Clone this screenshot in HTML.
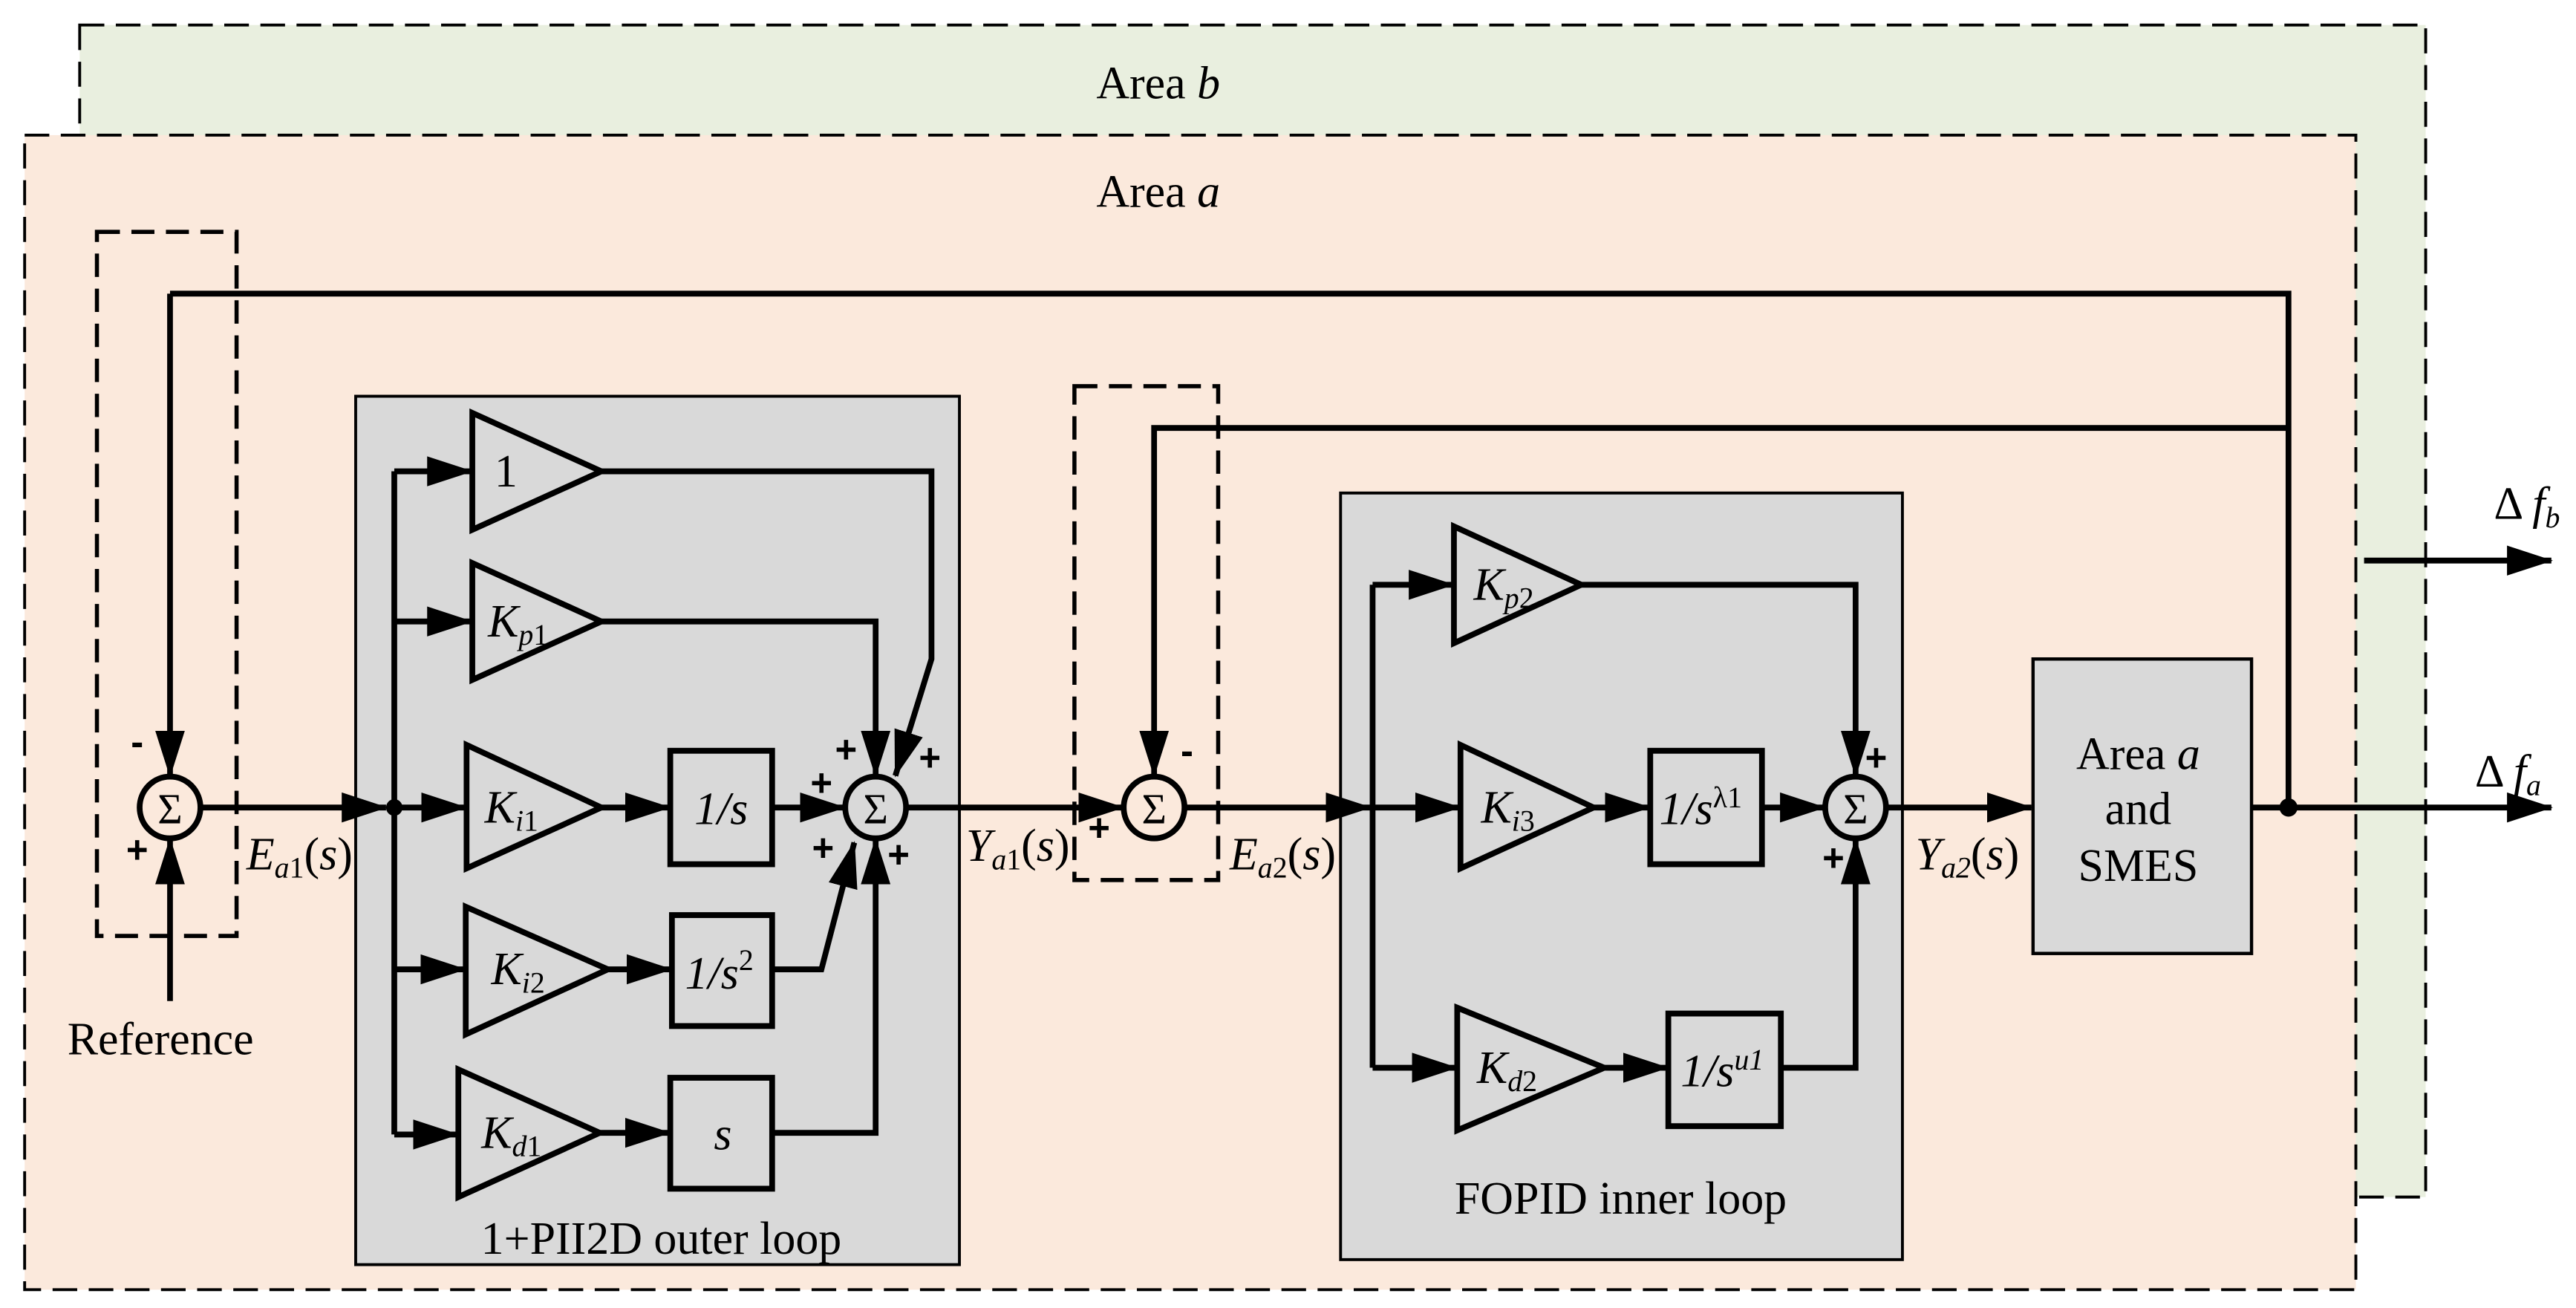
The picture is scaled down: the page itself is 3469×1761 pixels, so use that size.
<!DOCTYPE html>
<html><head><meta charset="utf-8"><style>
html,body{margin:0;padding:0;background:#fff;}
svg{display:block;}
text{font-family:"Liberation Serif",serif;font-size:56px;fill:#000;}
.it{font-style:italic;}
.sb{font-size:36px;}
.n{font-style:normal;}
.sg{font-family:"Liberation Sans",sans-serif;font-weight:bold;font-size:46px;}
.sig{font-size:52px;}
</style></head><body>
<svg width="3469" height="1761" viewBox="0 0 3136 1568" preserveAspectRatio="none" xmlns="http://www.w3.org/2000/svg">
<defs>
<marker id="a" markerUnits="userSpaceOnUse" markerWidth="56" markerHeight="40" refX="54" refY="20" orient="auto">
<path d="M0,2 L56,20 L0,38 z" fill="#000"/></marker>
</defs>
<rect x="97" y="30" width="2856" height="1405" fill="#e9efdf" stroke="#000" stroke-width="3.5" stroke-dasharray="30,14"/>
<rect x="30" y="162" width="2838" height="1384" fill="#fbe9dc" stroke="#000" stroke-width="3.5" stroke-dasharray="30,14"/>
<text x="1410" y="118" text-anchor="middle">Area <tspan class="it">b</tspan></text>
<text x="1410" y="248" text-anchor="middle">Area <tspan class="it">a</tspan></text>

<rect x="118" y="278" width="170" height="844" fill="none" stroke="#000" stroke-width="5" stroke-dasharray="28,14"/>
<rect x="1308" y="463" width="175" height="592" fill="none" stroke="#000" stroke-width="5" stroke-dasharray="28,14"/>

<rect x="433" y="475" width="735" height="1041" fill="#d9d9d9" stroke="#000" stroke-width="3.5"/>
<rect x="1632" y="591" width="684" height="919" fill="#d9d9d9" stroke="#000" stroke-width="3.5"/>
<rect x="2475" y="790" width="266" height="353" fill="#d9d9d9" stroke="#000" stroke-width="4"/>
<text x="805" y="1503" text-anchor="middle">1+PII2D outer loop</text>
<text x="1973" y="1455" text-anchor="middle">FOPID inner loop</text>
<text x="2603" y="922" text-anchor="middle">Area <tspan class="it">a</tspan></text>
<text x="2603" y="988" text-anchor="middle">and</text>
<text x="2603" y="1056" text-anchor="middle">SMES</text>

<g fill="none" stroke="#000" stroke-width="7">
<polyline points="207,352 2786,352 2786,968"/>
<line x1="207" y1="352" x2="207" y2="930" marker-end="url(#a)"/>
<polyline points="2786,513 1405,513 1405,930" marker-end="url(#a)"/>
<line x1="207" y1="1200" x2="207" y2="1006" marker-end="url(#a)"/>
<line x1="245" y1="968" x2="470" y2="968" marker-end="url(#a)"/>
<line x1="480" y1="565" x2="480" y2="1360"/>
<line x1="480" y1="565" x2="574" y2="565" marker-end="url(#a)"/>
<line x1="480" y1="745" x2="574" y2="745" marker-end="url(#a)"/>
<line x1="480" y1="968" x2="567" y2="968" marker-end="url(#a)"/>
<line x1="480" y1="1162" x2="566" y2="1162" marker-end="url(#a)"/>
<line x1="480" y1="1360" x2="557" y2="1360" marker-end="url(#a)"/>
<polygon points="575,495 732,565 575,635"/>
<polygon points="575,675 732,745 575,815"/>
<polygon points="568,893 732,968 568,1041"/>
<polygon points="567,1087 740,1162 567,1240"/>
<polygon points="558,1282 730,1358 558,1435"/>
<line x1="732" y1="968" x2="815" y2="968" marker-end="url(#a)"/>
<line x1="740" y1="1162" x2="817" y2="1162" marker-end="url(#a)"/>
<line x1="730" y1="1358" x2="815" y2="1358" marker-end="url(#a)"/>
<rect x="816" y="900" width="124" height="136"/>
<rect x="818" y="1097" width="122" height="133"/>
<rect x="816" y="1292" width="124" height="133"/>
<polyline points="732,565 1134,565 1134,790 1090,930" marker-end="url(#a)"/>
<polyline points="732,745 1066,745 1066,930" marker-end="url(#a)"/>
<line x1="940" y1="968" x2="1028" y2="968" marker-end="url(#a)"/>
<polyline points="940,1162 1000,1162 1040,1010" marker-end="url(#a)"/>
<polyline points="940,1358 1066,1358 1066,1006" marker-end="url(#a)"/>
<circle cx="1066" cy="968" r="37"/>
<circle cx="207" cy="968" r="37"/>
<circle cx="1405" cy="968" r="37"/>
<line x1="1103" y1="968" x2="1367" y2="968" marker-end="url(#a)"/>
<line x1="1442" y1="968" x2="1668" y2="968" marker-end="url(#a)"/>
<line x1="1671" y1="701" x2="1671" y2="1280"/>
<line x1="1671" y1="701" x2="1769" y2="701" marker-end="url(#a)"/>
<line x1="1671" y1="968" x2="1777" y2="968" marker-end="url(#a)"/>
<line x1="1671" y1="1280" x2="1773" y2="1280" marker-end="url(#a)"/>
<polygon points="1770,631 1925,701 1770,771"/>
<polygon points="1778,893 1940,968 1778,1041"/>
<polygon points="1774,1208 1953,1280 1774,1355"/>
<line x1="1940" y1="968" x2="2008" y2="968" marker-end="url(#a)"/>
<line x1="1953" y1="1280" x2="2030" y2="1280" marker-end="url(#a)"/>
<rect x="2009" y="900" width="136" height="136"/>
<rect x="2031" y="1215" width="137" height="135"/>
<polyline points="1925,701 2259,701 2259,930" marker-end="url(#a)"/>
<line x1="2145" y1="968" x2="2221" y2="968" marker-end="url(#a)"/>
<polyline points="2168,1280 2259,1280 2259,1006" marker-end="url(#a)"/>
<circle cx="2259" cy="968" r="37"/>
<line x1="2296" y1="968" x2="2473" y2="968" marker-end="url(#a)"/>
<line x1="2741" y1="968" x2="3106" y2="968" marker-end="url(#a)"/>
<line x1="2878" y1="672" x2="3106" y2="672" marker-end="url(#a)"/>
</g>
<circle cx="480" cy="968" r="10" fill="#000"/>
<circle cx="2786" cy="968" r="11" fill="#000"/>

<text x="207" y="987" text-anchor="middle" class="sig">Σ</text>
<text x="1066" y="987" text-anchor="middle" class="sig">Σ</text>
<text x="1405" y="987" text-anchor="middle" class="sig">Σ</text>
<text x="2259" y="987" text-anchor="middle" class="sig">Σ</text>

<text x="167" y="905" text-anchor="middle" class="sg">-</text>
<text x="167" y="1034" text-anchor="middle" class="sg">+</text>
<text x="1030" y="914" text-anchor="middle" class="sg">+</text>
<text x="1132" y="924" text-anchor="middle" class="sg">+</text>
<text x="1000" y="954" text-anchor="middle" class="sg">+</text>
<text x="1002" y="1032" text-anchor="middle" class="sg">+</text>
<text x="1094" y="1040" text-anchor="middle" class="sg">+</text>
<text x="1338" y="1008" text-anchor="middle" class="sg">+</text>
<text x="1445" y="916" text-anchor="middle" class="sg">-</text>
<text x="2284" y="924" text-anchor="middle" class="sg">+</text>
<text x="2232" y="1044" text-anchor="middle" class="sg">+</text>

<text x="82" y="1264">Reference</text>
<text x="300" y="1042" class="it">E<tspan dy="10" class="sb">a</tspan><tspan class="sb n">1</tspan><tspan dy="-10" class="n">(</tspan>s<tspan class="n">)</tspan></text>
<text x="1176" y="1032" class="it">Y<tspan dy="10" class="sb">a</tspan><tspan class="sb n">1</tspan><tspan dy="-10" class="n">(</tspan>s<tspan class="n">)</tspan></text>
<text x="1497" y="1042" class="it">E<tspan dy="10" class="sb">a</tspan><tspan class="sb n">2</tspan><tspan dy="-10" class="n">(</tspan>s<tspan class="n">)</tspan></text>
<text x="2332" y="1042" class="it">Y<tspan dy="10" class="sb">a2</tspan><tspan dy="-10" class="n">(</tspan>s<tspan class="n">)</tspan></text>
<text x="3013" y="943">Δ <tspan class="it">f</tspan><tspan dy="10" class="it sb">a</tspan></text>
<text x="3036" y="622">Δ <tspan class="it">f</tspan><tspan dy="10" class="it sb">b</tspan></text>

<text x="602" y="583">1</text>
<text x="594" y="763" class="it">K<tspan dy="10" class="sb">p</tspan><tspan class="sb n">1</tspan></text>
<text x="590" y="986" class="it">K<tspan dy="10" class="sb">i</tspan><tspan class="sb n">1</tspan></text>
<text x="598" y="1180" class="it">K<tspan dy="10" class="sb">i</tspan><tspan class="sb n">2</tspan></text>
<text x="586" y="1376" class="it">K<tspan dy="10" class="sb">d</tspan><tspan class="sb n">1</tspan></text>
<text x="878" y="988" text-anchor="middle" class="it">1/s</text>
<text x="834" y="1185" class="it">1/s<tspan dy="-22" class="sb n">2</tspan></text>
<text x="880" y="1378" text-anchor="middle" class="it">s</text>

<text x="1794" y="719" class="it">K<tspan dy="10" class="sb">p</tspan><tspan class="sb n">2</tspan></text>
<text x="1803" y="986" class="it">K<tspan dy="10" class="sb">i</tspan><tspan class="sb n">3</tspan></text>
<text x="1798" y="1298" class="it">K<tspan dy="10" class="sb">d</tspan><tspan class="sb n">2</tspan></text>
<text x="2020" y="988" class="it">1/s<tspan dy="-20" class="sb n">λ1</tspan></text>
<text x="2046" y="1302" class="it">1/s<tspan dy="-20" class="sb">u1</tspan></text>
</svg>
</body></html>
